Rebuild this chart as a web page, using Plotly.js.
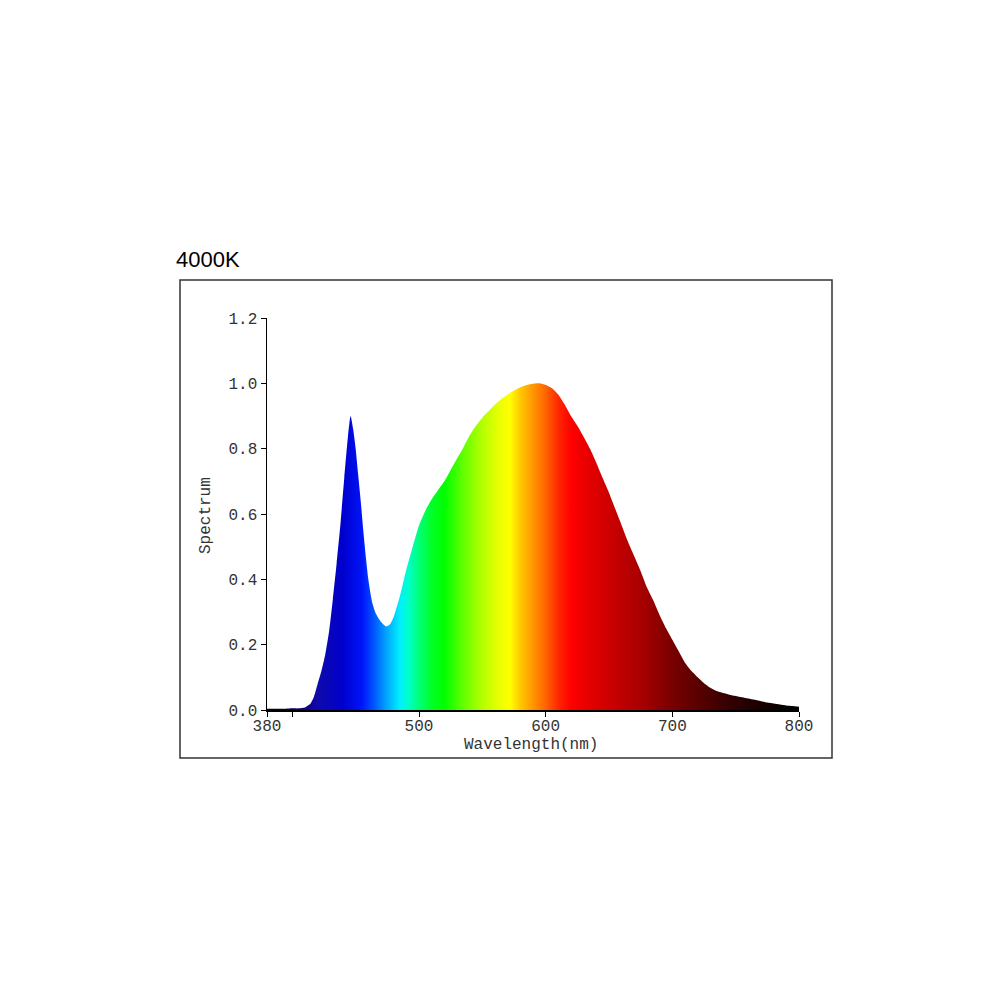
<!DOCTYPE html>
<html>
<head>
<meta charset="utf-8">
<script src="https://cdn.plot.ly/plotly-3.0.1.min.js"></script>
<style>html,body{margin:0;padding:0;background:#fff;}#chart{width:1000px;height:1000px;}</style>
</head>
<body>
<div id="chart"></div>
<script>
// Wavelength (nm) and relative spectrum values
const wavelength = [380,385,390,395,400,405,410,414,417,420,423,426,429,432,435,438,441,444,446,448,450,452,454,456,458,460,463,466,470,474,477,480,485,490,495,500,505,510,515,520,525,530,535,540,545,550,555,560,565,570,575,580,585,590,595,600,605,610,615,620,625,630,635,640,645,650,655,660,665,670,675,680,685,690,695,700,705,710,715,720,725,730,735,740,745,750,755,760,765,770,775,780,785,790,795,800];
const spectrum   = [0.004,0.004,0.004,0.004,0.005,0.005,0.008,0.018,0.04,0.08,0.12,0.17,0.24,0.34,0.45,0.57,0.71,0.84,0.90,0.86,0.80,0.72,0.64,0.55,0.47,0.40,0.33,0.295,0.27,0.256,0.262,0.285,0.35,0.43,0.50,0.565,0.61,0.645,0.673,0.70,0.735,0.77,0.803,0.84,0.87,0.895,0.915,0.935,0.952,0.966,0.978,0.988,0.995,0.999,1.0,0.995,0.985,0.965,0.935,0.90,0.87,0.836,0.80,0.757,0.71,0.665,0.615,0.565,0.515,0.47,0.425,0.375,0.335,0.29,0.25,0.215,0.18,0.145,0.12,0.10,0.082,0.068,0.058,0.052,0.047,0.043,0.039,0.035,0.031,0.027,0.023,0.02,0.017,0.014,0.012,0.01];

// Axis ticks
const xTickVals = [380,400,500,600,700,800];
const xTickText = ['380','','500','600','700','800'];
const yTickVals = [0,0.2,0.4,0.6,0.8,1.0,1.2];
const yTickText = ['0.0','0.2','0.4','0.6','0.8','1.0','1.2'];

// Spectral colour stops for the fill (style)
const colorStopNm  = [380,400,410,420,440,455,465,475,485,492,500,510,520,535,550,565,572,580,590,600,610,620,640,660,680,700,720,740,760,780,800];
const colorStopRgb = ['rgb(0,0,0)','rgb(10,0,70)','rgb(20,0,130)','rgb(15,10,170)','rgb(0,0,205)','rgb(0,20,250)','rgb(0,90,255)','rgb(0,170,255)','rgb(0,240,255)','rgb(0,255,200)','rgb(0,255,120)','rgb(0,255,40)','rgb(0,255,0)','rgb(100,255,0)','rgb(180,255,0)','rgb(240,255,0)','rgb(255,255,0)','rgb(255,200,0)','rgb(255,150,0)','rgb(255,100,0)','rgb(255,40,0)','rgb(255,0,0)','rgb(220,0,0)','rgb(190,0,0)','rgb(160,0,0)','rgb(120,0,0)','rgb(90,0,0)','rgb(60,0,0)','rgb(35,0,0)','rgb(15,0,0)','rgb(0,0,0)'];

const xMin = 380, xMax = 800;
const colorscale = colorStopNm.map((nm, i) => [(nm - xMin) / (xMax - xMin), colorStopRgb[i]]);

const trace = {
  x: wavelength,
  y: spectrum,
  type: 'scatter',
  mode: 'lines',
  line: {width: 0, shape: 'spline', smoothing: 0.6},
  fill: 'tozeroy',
  fillgradient: {type: 'horizontal', start: xMin, stop: xMax, colorscale: colorscale},
  hoverinfo: 'skip',
  showlegend: false
};

const tickFont = {family: 'Liberation Mono, Courier New, monospace', size: 16, color: '#333'};

const layout = {
  width: 1000, height: 1000,
  paper_bgcolor: '#ffffff', plot_bgcolor: '#ffffff',
  margin: {l: 267, r: 201, t: 318, b: 290, pad: 0},
  showlegend: false,
  xaxis: {
    range: [xMin, xMax], tickmode: 'array', tickvals: xTickVals, ticktext: xTickText,
    showline: true, linecolor: '#000', linewidth: 1.5, ticks: '',
    minor: {tickmode: 'array', tickvals: xTickVals, ticks: 'outside', ticklen: 5, tickcolor: '#000', tickwidth: 1, showgrid: false},
    showgrid: false, zeroline: false, tickfont: tickFont, fixedrange: true
  },
  yaxis: {
    range: [0, 1.2], tickmode: 'array', tickvals: yTickVals, ticktext: yTickText,
    showline: true, linecolor: '#000', linewidth: 1.5, ticks: 'outside', ticklen: 5, tickcolor: '#000', tickwidth: 1,
    showgrid: false, zeroline: false, tickfont: tickFont, fixedrange: true
  },
  shapes: [{
    type: 'rect', xref: 'paper', yref: 'paper',
    x0: (180 - 267) / 532, x1: (832 - 267) / 532,
    y0: (710 - 758) / 392, y1: (710 - 280) / 392,
    line: {color: '#333', width: 1.5}, fillcolor: 'rgba(0,0,0,0)', layer: 'above'
  }],
  annotations: [
    {text: '4000K', xref: 'paper', yref: 'paper', x: (174 - 267) / 532, y: (710 - 259) / 392,
     xanchor: 'left', yanchor: 'middle', showarrow: false,
     font: {family: 'Liberation Sans, Arial, sans-serif', size: 22, color: '#000'}},
    {text: 'Spectrum', xref: 'paper', yref: 'paper', x: (206 - 267) / 532, y: (710 - 516) / 392,
     xanchor: 'center', yanchor: 'middle', textangle: -90, showarrow: false,
     font: {family: 'Liberation Mono, Courier New, monospace', size: 16, color: '#333'}},
    {text: 'Wavelength(nm)', xref: 'paper', yref: 'paper', x: (531 - 267) / 532, y: (710 - 745) / 392,
     xanchor: 'center', yanchor: 'middle', showarrow: false,
     font: {family: 'Liberation Mono, Courier New, monospace', size: 16, color: '#333'}}
  ]
};

Plotly.newPlot('chart', [trace], layout, {displayModeBar: false, staticPlot: true});
</script>
</body>
</html>
